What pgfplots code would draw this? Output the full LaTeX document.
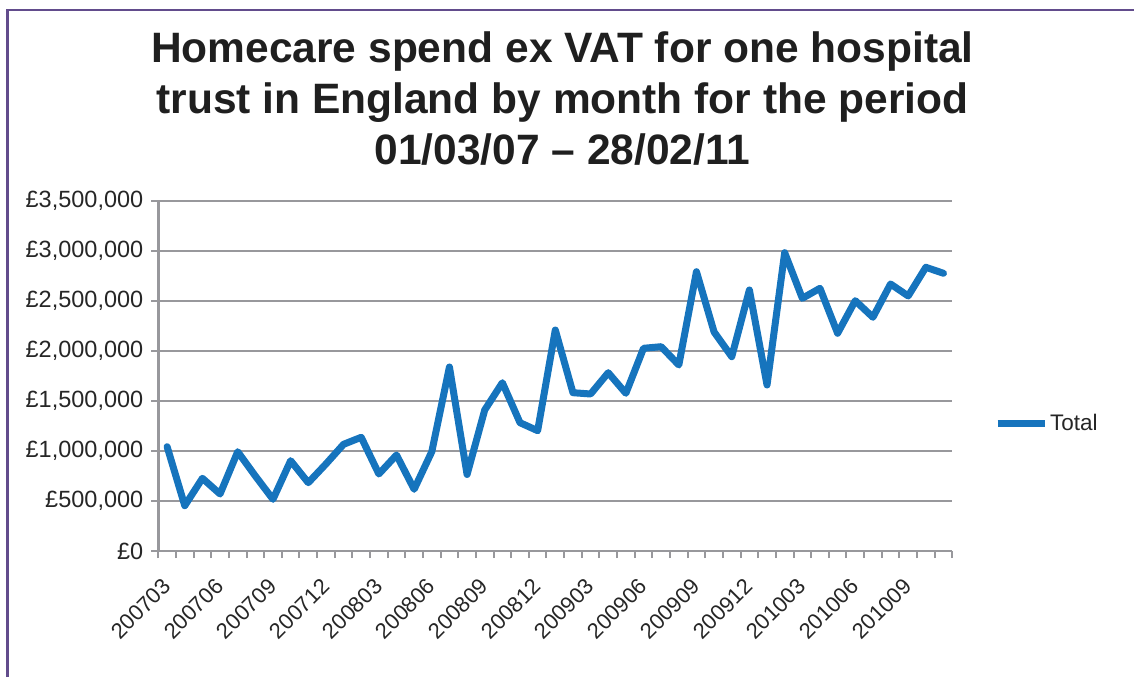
\documentclass[border=0pt]{standalone}
\usepackage{pgfplots}
\pgfplotsset{compat=1.18}
\usepackage{fontspec}
\setmainfont{Liberation Sans}
\definecolor{linecol}{RGB}{22,116,189}
\definecolor{gridgray}{RGB}{152,152,156}
\definecolor{framecol}{RGB}{98,76,140}
\begin{document}
\begin{tikzpicture}
\useasboundingbox (0pt,0pt) rectangle (1134pt,677pt);
\draw[line width=2.5pt, framecol] (7.5pt,0pt) -- (7.5pt,667pt) -- (1134pt,667pt);
\begin{axis}[
  at={(158.3pt,126pt)}, anchor=south west,
  scale only axis, width=794pt, height=350pt,
  xmin=-0.5, xmax=44.5, ymin=0, ymax=3500000,
  scaled y ticks=false,
  axis lines*=left,
  axis line style={line width=2.5pt, color=gridgray},
  tick align=outside,
  tick style={line width=2pt, color=gridgray},
  major tick length=7pt,
  xtick={-0.5,0.5,...,44.5},
  xticklabels={},
  extra x ticks={0,3,...,42},
  extra x tick labels={200703,200706,200709,200712,200803,200806,200809,200812,200903,200906,200909,200912,201003,201006,201009},
  extra x tick style={major tick length=0pt},
  xticklabel style={xshift=-6pt, yshift=-26pt, rotate=45, anchor=north east, inner sep=0pt, font=\fontsize{22}{24}\selectfont, text=black!85},
  ytick={0,500000,...,3500000},
  yticklabels={{£0},{£500,000},{£1,000,000},{£1,500,000},{£2,000,000},{£2,500,000},{£3,000,000},{£3,500,000}},
  yticklabel style={font=\fontsize{23.5}{26}\selectfont, text=black!85, xshift=-4.5pt},
  ymajorgrids,
  grid style={line width=2pt, color=gridgray},
  title={Homecare spend ex VAT for one hospital\\trust in England by month for the period\\01/03/07 – 28/02/11},
  title style={at={(axis description cs:0.509,1.4657)}, anchor=north, inner sep=0pt, align=center, font=\fontsize{42.5}{51}\selectfont\bfseries, text=black!88},
  legend style={draw=none, fill=none, at={(axis description cs:1.0525,0.3657)}, anchor=west, inner sep=0pt, font=\fontsize{22.5}{26}\selectfont, text=black!85, nodes={inner sep=2pt}},
  legend cell align=left,
  legend image code/.code={\draw[#1, line width=7pt, line cap=butt] (0pt,0pt) -- (47pt,0pt);},
]
\addplot[color=linecol, line width=7pt, line join=round, line cap=round, mark=none] coordinates {
(0,1043000) (1,453000) (2,727000) (3,570000) (4,993000) (5,750000) (6,517000) (7,903000) (8,683000) (9,870000)
(10,1067000) (11,1137000) (12,770000) (13,960000) (14,617000) (15,993000) (16,1840000) (17,765000) (18,1410000) (19,1683000)
(20,1283000) (21,1203000) (22,2210000) (23,1583000) (24,1570000) (25,1783000) (26,1577000) (27,2027000) (28,2043000) (29,1860000)
(30,2793000) (31,2190000) (32,1943000) (33,2610000) (34,1660000) (35,2983000) (36,2527000) (37,2627000) (38,2177000) (39,2503000)
(40,2337000) (41,2670000) (42,2550000) (43,2837000) (44,2777000)
};
\addlegendentry{Total}
\end{axis}
\end{tikzpicture}
\end{document}
